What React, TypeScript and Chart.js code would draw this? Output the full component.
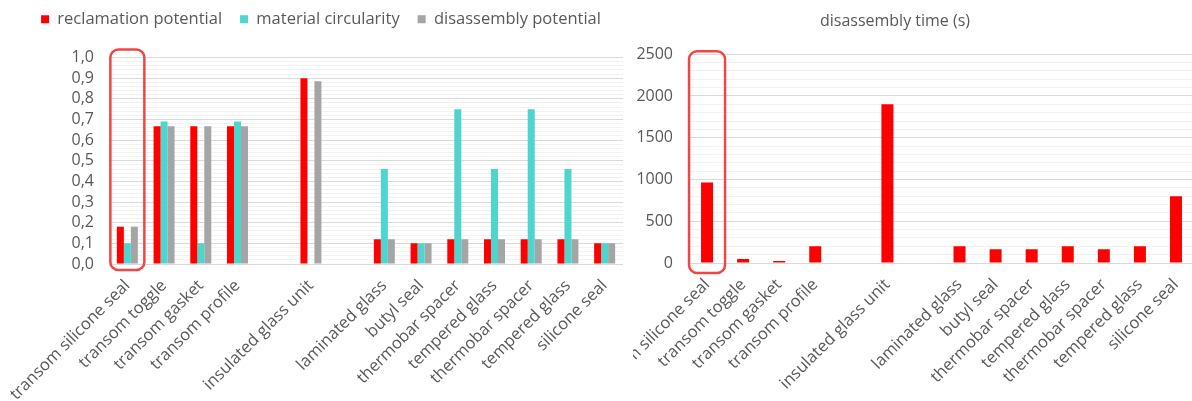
import React, { useEffect, useRef } from 'react';
import { Chart, registerables } from 'chart.js';

Chart.register(...registerables);

const FONT = "'Open Sans', sans-serif";
const TEXT = '#595959';

const categories = [
  'transom silicone seal',
  'transom toggle',
  'transom gasket',
  'transom profile',
  '',
  'insulated glass unit',
  '',
  'laminated glass',
  'butyl seal',
  'thermobar spacer',
  'tempered glass',
  'thermobar spacer',
  'tempered glass',
  'silicone seal',
];

const reclamationPotential = [0.18, 0.667, 0.667, 0.667, null, 0.9, null, 0.12, 0.1, 0.12, 0.12, 0.12, 0.12, 0.1];
const materialCircularity = [0.1, 0.69, 0.1, 0.69, null, null, null, 0.46, 0.1, 0.75, 0.46, 0.75, 0.46, 0.1];
const disassemblyPotential = [0.18, 0.667, 0.667, 0.667, null, 0.885, null, 0.12, 0.1, 0.12, 0.12, 0.12, 0.12, 0.1];
const disassemblyTime = [965, 48, 25, 200, null, 1900, null, 200, 165, 165, 200, 165, 200, 800];

const leftTickLabels = ['0,0', '0,1', '0,2', '0,3', '0,4', '0,5', '0,6', '0,7', '0,8', '0,9', '1,0'];
const rightTickLabels = ['0', '500', '1000', '1500', '2000', '2500'];
const leftMax = 1;
const leftMinorStep = 0.02;
const rightMax = 2500;
const rightMinorStep = 100;

const highlightPlugin = {
  id: 'highlight',
  afterDraw(chart: any, _args: any, opts: any) {
    if (!opts || !opts.show) return;
    const { ctx, chartArea, scales } = chart;
    const cx = scales.x.getPixelForValue(0);
    const x0 = cx - opts.half;
    const y0 = chartArea.top + opts.top;
    const y1 = chartArea.bottom + opts.bottom;
    ctx.save();
    ctx.strokeStyle = '#F04646';
    ctx.lineWidth = 2.5;
    ctx.beginPath();
    ctx.roundRect(x0, y0, opts.half * 2, y1 - y0, 8);
    ctx.stroke();
    ctx.restore();
  },
};

function yAxis(max: number, step: number, labels: string[], width: number, pad: number) {
  return {
    min: 0,
    max,
    ticks: {
      stepSize: step,
      autoSkip: false,
      padding: pad,
      color: TEXT,
      font: { family: FONT, size: 16 },
      callback: (_v: any, i: number) => (i % 5 === 0 ? labels[i / 5] : ''),
    },
    grid: {
      drawTicks: false,
      color: (c: any) => (c.index % 5 === 0 ? '#D9D9D9' : '#F2F2F2'),
    },
    border: { display: false },
    afterFit: (s: any) => {
      s.width = width;
    },
  };
}

function xAxis(height: number) {
  return {
    ticks: {
      autoSkip: false,
      minRotation: 45,
      maxRotation: 45,
      padding: 12,
      color: TEXT,
      font: { family: FONT, size: 16.5 },
    },
    grid: { display: false, drawTicks: false },
    border: { display: false },
    afterFit: (s: any) => {
      s.paddingLeft = 0;
      s.paddingRight = 0;
      s.height = height;
    },
  };
}

function LeftChart() {
  const ref = useRef<HTMLCanvasElement | null>(null);
  useEffect(() => {
    if (!ref.current) return;
    const chart = new Chart(ref.current, {
      type: 'bar',
      data: {
        labels: categories,
        datasets: [
          { label: 'reclamation potential', data: reclamationPotential, backgroundColor: '#FF0000', categoryPercentage: 0.572, barPercentage: 1 },
          { label: 'material circularity', data: materialCircularity, backgroundColor: '#4DD5CE', categoryPercentage: 0.572, barPercentage: 1 },
          { label: 'disassembly potential', data: disassemblyPotential, backgroundColor: '#A5A5A5', categoryPercentage: 0.572, barPercentage: 1 },
        ] as any,
      },
      options: {
        responsive: false,
        animation: false,
        events: [],
        layout: { padding: { top: -7, left: 19, right: 19, bottom: 0 } },
        plugins: {
          legend: {
            position: 'top',
            labels: { boxWidth: 8, boxHeight: 8, padding: 18, color: TEXT, font: { family: FONT, size: 16.5 } },
          },
          subtitle: {
            display: true,
            text: '',
            weight: 500,
            font: { family: FONT, size: 10 },
            padding: { top: 4, bottom: 4 },
          },
          tooltip: { enabled: false },
          highlight: { show: true, half: 17, top: -8, bottom: 6 },
        } as any,
        scales: {
          x: xAxis(137) as any,
          y: yAxis(leftMax, leftMinorStep, leftTickLabels, 90, 15) as any,
        },
      },
      plugins: [highlightPlugin],
    });
    return () => chart.destroy();
  }, []);
  return <canvas ref={ref} width={642} height={401} style={{ position: 'absolute', left: 0, top: 0, display: 'block' }} />;
}

function RightChart() {
  const ref = useRef<HTMLCanvasElement | null>(null);
  useEffect(() => {
    if (!ref.current) return;
    const chart = new Chart(ref.current, {
      type: 'bar',
      data: {
        labels: categories,
        datasets: [
          { label: 'disassembly time (s)', data: disassemblyTime, backgroundColor: '#FF0000', categoryPercentage: 0.333, barPercentage: 1 },
        ] as any,
      },
      options: {
        responsive: false,
        animation: false,
        events: [],
        layout: { padding: 0 },
        plugins: {
          legend: { display: false },
          title: {
            display: true,
            text: 'disassembly time (s)',
            color: TEXT,
            font: { family: FONT, size: 16, weight: 'normal' },
            padding: { top: 12, bottom: 23 },
          },
          tooltip: { enabled: false },
          highlight: { show: true, half: 18, top: -3, bottom: 10 },
        } as any,
        scales: {
          x: xAxis(138) as any,
          y: yAxis(rightMax, rightMinorStep, rightTickLabels, 93, 16) as any,
        },
      },
      plugins: [highlightPlugin],
    });
    return () => chart.destroy();
  }, []);
  return <canvas ref={ref} width={598} height={401} style={{ position: 'absolute', left: -37, top: 0, display: 'block' }} />;
}

export default function App() {
  return (
    <div style={{ position: 'fixed', left: 0, top: 0, width: 1192, height: 401, overflow: 'hidden', background: '#ffffff' }}>
      <LeftChart />
      <div style={{ position: 'absolute', left: 633, top: 0, width: 559, height: 401, overflow: 'hidden' }}>
        <RightChart />
      </div>
    </div>
  );
}
